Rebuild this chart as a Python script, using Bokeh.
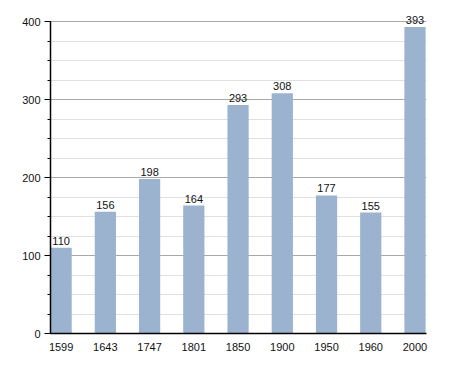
from bokeh.plotting import figure
from bokeh.models import ColumnDataSource, FixedTicker, SingleIntervalTicker, Range1d, LabelSet
from bokeh.core.properties import value
from bokeh.embed import file_html
from bokeh.resources import INLINE

years = ["1599", "1643", "1747", "1801", "1850", "1900", "1950", "1960", "2000"]
population = [110, 156, 198, 164, 293, 308, 177, 155, 393]

bar_w = 0.48
idx = list(range(len(years)))
src = ColumnDataSource(dict(
    left=[i for i in idx],
    right=[i + bar_w for i in idx],
    center=[i + bar_w / 2 for i in idx],
    top=population,
    label=[str(v) for v in population],
))

p = figure(width=455, height=373, output_backend="svg", toolbar_location=None,
           x_range=Range1d(0, 8.5), y_range=Range1d(0, 415.4),
           min_border_left=50, min_border_right=29, min_border_top=9, min_border_bottom=40)
p.outline_line_color = None
p.background_fill_color = "white"

p.quad(left="left", right="right", bottom=0, top="top", source=src,
       fill_color="#9bb3cf", line_color=None)

labels = LabelSet(x="center", y="top", text="label", source=src, text_align="center",
                  text_baseline="bottom", y_offset=3, text_font_size=value("11px"),
                  text_font=value("Liberation Sans"), text_color="#111111")
p.add_layout(labels)

p.xaxis.ticker = FixedTicker(ticks=[i + bar_w / 2 for i in idx])
p.xaxis.major_label_overrides = {i + bar_w / 2: y for i, y in zip(idx, years)}
p.xaxis.major_tick_line_color = None
p.xaxis.minor_tick_line_color = None
p.xaxis.axis_line_color = "black"
p.xaxis.axis_line_width = 1.5
p.xaxis.major_label_text_font = "Liberation Sans"
p.xaxis.major_label_text_font_size = "11px"
p.xaxis.major_label_text_color = "#111111"
p.xaxis.major_label_standoff = 3

p.yaxis.ticker = SingleIntervalTicker(interval=100, num_minor_ticks=4)
p.yaxis.bounds = (0, 400)
p.yaxis.axis_line_color = "black"
p.yaxis.axis_line_width = 1.5
p.yaxis.major_tick_line_color = "black"
p.yaxis.major_tick_out = 6
p.yaxis.major_tick_in = 0
p.yaxis.minor_tick_line_color = "black"
p.yaxis.minor_tick_out = 3
p.yaxis.minor_tick_in = 0
p.yaxis.major_label_text_font = "Liberation Sans"
p.yaxis.major_label_text_font_size = "11px"
p.yaxis.major_label_text_color = "#111111"
p.yaxis.major_label_standoff = 4

p.xgrid.grid_line_color = None
p.ygrid.bounds = (0, 400)
p.ygrid.grid_line_color = "#a8a8a8"
p.ygrid.minor_grid_line_color = "#e0e0e0"
p.ygrid.level = "underlay"

open("out.html", "w").write(file_html(p, INLINE))
